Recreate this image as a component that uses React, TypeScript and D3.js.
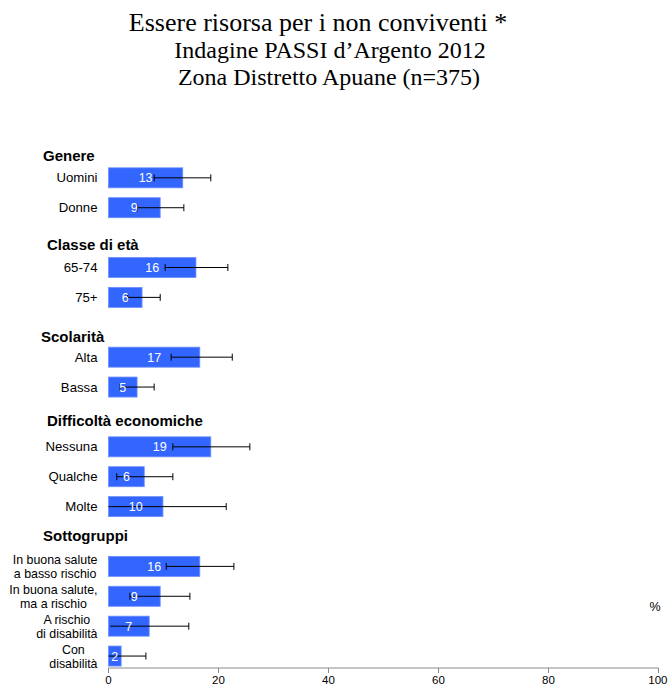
import React, { useEffect, useRef } from "react";
import * as d3 from "d3";

const titleLines = [
  "Essere risorsa per i non conviventi *",
  "Indagine PASSI d’Argento 2012",
  "Zona Distretto Apuane (n=375)",
];

const groupNames = ["Genere", "Classe di età", "Scolarità", "Difficoltà economiche", "Sottogruppi"];
const categories = [
  "Uomini", "Donne",
  "65-74", "75+",
  "Alta", "Bassa",
  "Nessuna", "Qualche", "Molte",
  "In buona salute\na basso rischio", "In buona salute,\nma a rischio", "A rischio\ndi disabilità", "Con\ndisabilità",
];
const categoryGroup = [0, 0, 1, 1, 2, 2, 3, 3, 3, 4, 4, 4, 4];
const values = [13, 9, 16, 6, 17, 5, 19, 6, 10, 16, 9, 7, 2];
const valueBar = [13.5, 9.4, 15.9, 6.1, 16.6, 5.2, 18.6, 6.5, 9.9, 16.6, 9.4, 7.4, 2.3];
const lowerCI = [8.3, 5.2, 10.3, 3.5, 11.4, 2.1, 11.7, 1.5, 0, 10.5, 3.9, 0.3, 0];
const upperCI = [18.6, 13.7, 21.7, 9.4, 22.5, 8.3, 25.7, 11.7, 21.4, 22.8, 14.8, 14.6, 6.8];
const xTicks = [0, 20, 40, 60, 80, 100];

export default function App() {
  const ref = useRef<SVGSVGElement>(null);

  useEffect(() => {
    const svg = d3.select(ref.current);
    svg.selectAll("*").remove();

    const slots: { type: string; idx: number }[] = [];
    groupNames.forEach((g, gi) => {
      slots.push({ type: "h", idx: gi });
      categories.forEach((c, ci) => {
        if (categoryGroup[ci] === gi) slots.push({ type: "c", idx: ci });
      });
    });
    const slotKeys = slots.map((s, i) => String(i));

    const x = d3.scaleLinear().domain([0, 100]).range([108.5, 658.5]);
    const y = d3.scaleBand().domain(slotKeys).range([133, 671]).paddingInner(0.33).paddingOuter(0.165);

    // title
    const tg = svg.append("g").attr("font-family", "'Liberation Serif', 'Times New Roman', serif").attr("fill", "#000");
    tg.append("text").attr("x", 318).attr("y", 31).attr("text-anchor", "middle").attr("font-size", 26).text(titleLines[0]);
    tg.append("text").attr("x", 330).attr("y", 58).attr("text-anchor", "middle").attr("font-size", 24).text(titleLines[1]);
    tg.append("text").attr("x", 329).attr("y", 85).attr("text-anchor", "middle").attr("font-size", 24).text(titleLines[2]);

    const font = "'Liberation Sans', Arial, sans-serif";
    const g = svg.append("g").attr("font-family", font);

    const headerOffsets = [8, 7, 9, 4, -1];
    const headerX = [43, 47, 41, 47, 43];
    slots.forEach((s, i) => {
      const yc = y(String(i))! + y.bandwidth() / 2;
      if (s.type === "h") {
        g.append("text")
          .attr("x", headerX[s.idx])
          .attr("y", yc + headerOffsets[s.idx] + 5.3)
          .attr("font-size", 15)
          .attr("font-weight", "bold")
          .text(groupNames[s.idx]);
      } else {
        const ci = s.idx;
        const lines = categories[ci].split("\n");
        const fs = lines.length > 1 ? 12.4 : 13.2;
        const lg = g.append("g");
        const texts = lines.map((l, li) =>
          lg.append("text")
            .attr("font-size", fs)
            .attr("fill", "#000")
            .attr("y", yc + 4.6 + (li - (lines.length - 1) / 2) * 14)
            .text(l)
        );
        const widths = texts.map((t) => (t.node() as SVGTextElement).getComputedTextLength());
        const maxW = Math.max(...widths);
        const cx = 97.5 - maxW / 2;
        texts.forEach((t) => t.attr("x", cx).attr("text-anchor", "middle"));

        const y0 = y(String(i))!;
        g.append("rect")
          .attr("x", x(0))
          .attr("y", y0)
          .attr("width", x(valueBar[ci]) - x(0))
          .attr("height", y.bandwidth())
          .attr("fill", "#3366FF")
          .attr("stroke", "#6f8fff")
          .attr("stroke-width", 0.8);
        const el = g.append("g").attr("stroke", "#000").attr("stroke-width", 1);
        el.append("line").attr("x1", x(lowerCI[ci])).attr("x2", x(upperCI[ci])).attr("y1", yc).attr("y2", yc);
        [lowerCI[ci], upperCI[ci]].forEach((v) => {
          if (v > 0.5) el.append("line").attr("x1", x(v)).attr("x2", x(v)).attr("y1", yc - 3.5).attr("y2", yc + 3.5);
        });
        g.append("text")
          .attr("x", (x(0) + x(valueBar[ci])) / 2)
          .attr("y", yc + 4.5)
          .attr("text-anchor", "middle")
          .attr("font-size", 12.5)
          .attr("fill", "#fff")
          .text(values[ci]);
      }
    });

    // axis
    const axisY = 668;
    const ag = g.append("g").attr("stroke", "#888");
    ag.append("line").attr("x1", x(0)).attr("x2", x(100)).attr("y1", axisY).attr("y2", axisY);
    xTicks.forEach((t) => {
      ag.append("line").attr("x1", x(t)).attr("x2", x(t)).attr("y1", axisY).attr("y2", axisY + 5);
      g.append("text").attr("x", x(t)).attr("y", 684).attr("text-anchor", t === 100 ? "end" : "middle").attr("dx", t === 100 ? 9 : 0).attr("font-size", 11.5).text(t);
    });
    g.append("text").attr("x", 655).attr("y", 611).attr("text-anchor", "middle").attr("font-size", 12.5).text("%");
  }, []);

  return (
    <svg
      ref={ref}
      width={670}
      height={689}
      style={{ position: "absolute", left: 0, top: 0, background: "#fff" }}
    />
  );
}
